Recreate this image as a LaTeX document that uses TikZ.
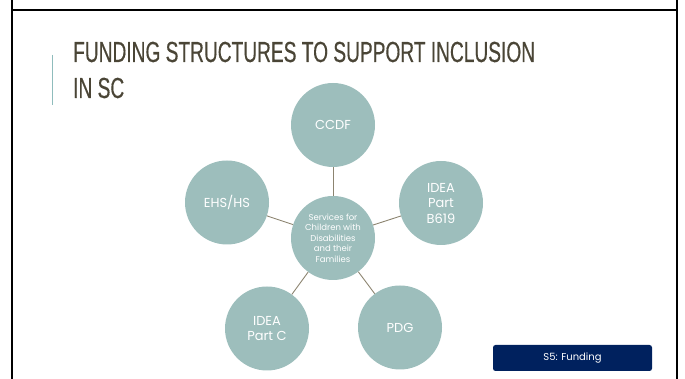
\documentclass[tikz,border=0pt]{standalone}
\usepackage{fontspec}
\usepackage{tikz}
\usetikzlibrary{positioning}

\setmainfont{Poppins}
\newfontfamily\headfont[FakeStretch=0.66, FakeBold=0.4]{Liberation Sans}

\definecolor{bubble}{HTML}{9DBEBC}
\definecolor{spoke}{HTML}{8C8470}
\definecolor{headink}{HTML}{4A4536}
\definecolor{accent}{HTML}{8FBCBC}
\definecolor{tagblue}{HTML}{00215E}

\tikzset{
  fund/.style={circle, fill=bubble, minimum size=84pt, inner sep=0pt,
    text=white, align=center, font=\fontsize{13}{15.5}\selectfont},
  hubnode/.style={fund, font=\fontsize{8.5}{10.6}\selectfont},
  link/.style={draw=spoke, line width=0.9pt},
  tagbox/.style={fill=tagblue, rounded corners=2.5pt, minimum width=159pt,
    minimum height=26pt, inner sep=0pt, text=white, font=\fontsize{10}{12}\selectfont}
}

\begin{document}
\begin{tikzpicture}[x=1pt, y=1pt, node distance=112pt, on grid]

  \useasboundingbox (0,0) rectangle (685,379);

  % slide frame and title
  \draw[line width=2pt] (12,380) -- (12,369) -- (677,369) -- (677,380);
  \draw[line width=2pt] (12,369) -- (12,-1);
  \draw[line width=2pt] (677,369) -- (677,-1);
  \draw[accent, line width=1pt] (52,324) -- (52,274);

  \node (title1) [anchor=base west, inner sep=0pt, text=headink,
    font=\headfont\fontsize{29}{36}\selectfont] at (73,317) {FUNDING STRUCTURES TO SUPPORT INCLUSION};
  \node (title2) [anchor=base west, inner sep=0pt, text=headink,
    font=\headfont\fontsize{29}{36}\selectfont] at (73,281) {IN SC};

  % centre and the five funding sources
  \node (hub) [hubnode] at (333,141) {Services for\\Children with\\Disabilities\\and their\\Families};
  \node (ccdf) [fund, above=113pt of hub] {CCDF};
  \node (ehs) [fund, above left=35.5pt and 106pt of hub] {EHS/HS};
  \node (b619) [fund, above right=35pt and 108pt of hub] {IDEA\\Part\\B619};
  \node (partc) [fund, below left=90.5pt and 66pt of hub] {IDEA\\Part C};
  \node (pdg) [fund, below right=89.5pt and 67pt of hub] {PDG};

  % spokes
  \draw[link] (hub) -- (ccdf);
  \draw[link] (hub) -- (ehs);
  \draw[link] (hub) -- (b619);
  \draw[link] (hub) -- (partc);
  \draw[link] (hub) -- (pdg);

  % section tag
  \node (tag) [tagbox] at (572.5,21) {S5: Funding};

\end{tikzpicture}
\end{document}
